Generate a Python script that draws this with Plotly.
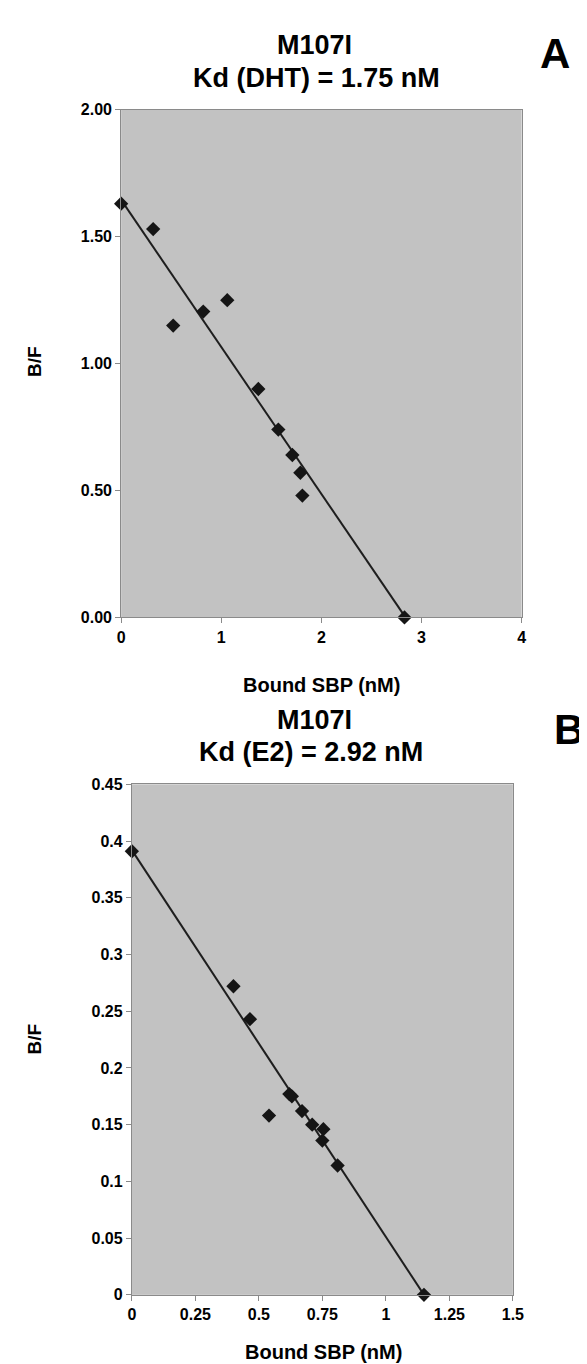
import plotly.graph_objects as go

# Panel A: DHT
a_x = [0.0, 0.32, 0.52, 0.82, 1.06, 1.37, 1.57, 1.71, 1.79, 1.81, 2.83]
a_y = [1.63, 1.53, 1.15, 1.205, 1.25, 0.90, 0.74, 0.64, 0.57, 0.48, 0.0]
a_fit_x = [0.0, 2.84]
a_fit_y = [1.645, 0.0]
a_yticks = [0.0, 0.5, 1.0, 1.5, 2.0]
a_xticks = [0, 1, 2, 3, 4]

# Panel B: E2
b_x = [0.0, 0.40, 0.465, 0.54, 0.62, 0.63, 0.67, 0.71, 0.754, 0.75, 0.81, 1.15]
b_y = [0.391, 0.272, 0.243, 0.158, 0.177, 0.175, 0.162, 0.150, 0.146, 0.136, 0.114, 0.0]
b_fit_x = [0.0, 1.15]
b_fit_y = [0.392, 0.0]
b_yticks = [0, 0.05, 0.1, 0.15, 0.2, 0.25, 0.3, 0.35, 0.4, 0.45]
b_xticks = [0, 0.25, 0.5, 0.75, 1, 1.25, 1.5]

W, H = 587, 1364
FONT = "Liberation Sans, Arial, sans-serif"

def px(x):
    return x / W

def py(y):
    return 1 - y / H

fig = go.Figure()
marker = dict(symbol="diamond", size=11, color="#151515")
line = dict(color="#1e1e1e", width=2)

fig.add_trace(go.Scatter(x=a_fit_x, y=a_fit_y, mode="lines", line=line,
                         xaxis="x", yaxis="y", showlegend=False, hoverinfo="skip"))
fig.add_trace(go.Scatter(x=a_x, y=a_y, mode="markers", marker=marker, cliponaxis=False,
                         xaxis="x", yaxis="y", showlegend=False))
fig.add_trace(go.Scatter(x=b_fit_x, y=b_fit_y, mode="lines", line=line,
                         xaxis="x2", yaxis="y2", showlegend=False, hoverinfo="skip"))
fig.add_trace(go.Scatter(x=b_x, y=b_y, mode="markers", marker=marker, cliponaxis=False,
                         xaxis="x2", yaxis="y2", showlegend=False))

tickfont = dict(family=FONT, size=16, color="black", weight="bold")
axis_common = dict(showgrid=False, zeroline=False, showline=True, linecolor="#8a8a8a",
                   linewidth=1, mirror=True, ticks="outside", ticklen=5, tickcolor="#8a8a8a",
                   tickfont=tickfont)

fig.update_layout(
    width=W, height=H,
    margin=dict(l=0, r=0, t=0, b=0),
    paper_bgcolor="white",
    plot_bgcolor="#c2c2c2",
    xaxis=dict(domain=[px(112), px(523)], anchor="y", range=[0, 4],
               tickvals=a_xticks, **axis_common),
    yaxis=dict(domain=[py(609), py(95)], anchor="x", range=[0, 2],
               tickvals=a_yticks, tickformat=".2f", **axis_common),
    xaxis2=dict(domain=[px(123), px(514)], anchor="y2", range=[0, 1.5],
                tickvals=b_xticks, **axis_common),
    yaxis2=dict(domain=[py(1295), py(778)], anchor="x2", range=[0, 0.45],
                tickvals=b_yticks, **axis_common),
)

def ann(text, x, y, size, angle=0):
    fig.add_annotation(text=text, x=px(x), y=py(y), xref="paper", yref="paper",
                       xanchor="center", yanchor="middle", showarrow=False, textangle=angle,
                       font=dict(family=FONT, size=size, color="black", weight="bold"))

ann("M107I", 310, 29, 27)
ann("Kd (DHT) = 1.75 nM", 312, 63, 27)
ann("A", 557, 38, 42)
ann("B/F", 23, 350, 19, -90)
ann("Bound SBP (nM)", 318, 677, 20)
ann("M107I", 310, 713, 27)
ann("Kd (E2) = 2.92 nM", 307, 745, 27)
ann("B", 572, 723, 42)
ann("B/F", 23, 1036, 19, -90)
ann("Bound SBP (nM)", 320, 1353, 20)

fig.write_html("out.html")
